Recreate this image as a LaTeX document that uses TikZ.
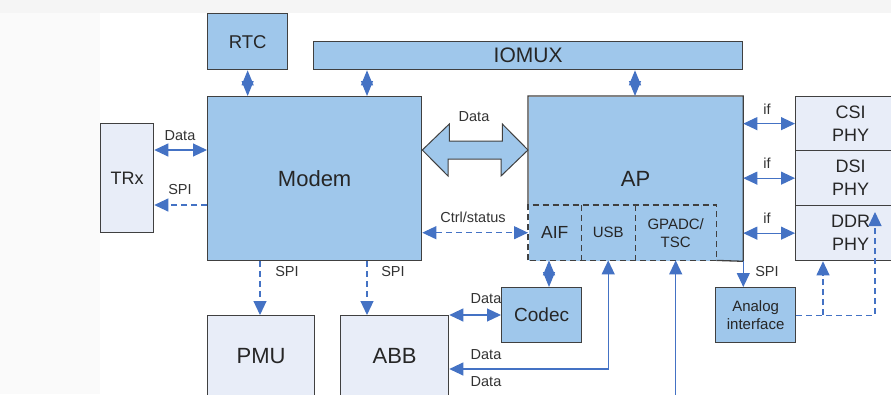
\documentclass[tikz,border=0pt]{standalone}
\usepackage{fontspec}
\setmainfont{Liberation Sans}
\usetikzlibrary{arrows.meta}

\definecolor{boxblue}{RGB}{159,199,235}
\definecolor{boxlight}{RGB}{232,237,248}
\definecolor{arrblue}{RGB}{68,114,196}
\definecolor{edgegray}{RGB}{64,64,64}
\definecolor{bggray}{RGB}{245,245,245}
\definecolor{sidegray}{RGB}{250,250,250}

\begin{document}
\begin{tikzpicture}[x=1pt, y=-1pt,
  blk/.style={draw=edgegray, line width=1.3pt, fill=boxblue, anchor=north west, inner sep=0pt, align=center, text=black!85},
  lightblk/.style={blk, fill=boxlight},
  subblk/.style={anchor=north west, inner sep=0pt, align=center, text=black!85},
  lbl/.style={font=\fontsize{14.5}{17}\selectfont, text=black!80},
  dsh/.style={dash pattern=on 6pt off 4pt},
  dbl/.style={draw=arrblue, line width=1.1pt, {Triangle[length=14pt,width=13pt]}-{Triangle[length=14pt,width=13pt]}},
  sdbl/.style={draw=arrblue, line width=1.1pt, {Triangle[length=15pt,width=12pt]}-{Triangle[length=15pt,width=12pt]}},
  sgl/.style={draw=arrblue, line width=1.1pt, -{Triangle[length=14pt,width=13pt]}}]
  \useasboundingbox (0,0) rectangle (891,394);
  \clip (0,0) rectangle (891,394);
  \fill[sidegray] (0,0) rectangle (891,394);
  \fill[bggray] (0,0) rectangle (891,13);
  \fill[white] (100,13) rectangle (891,394);

  % blocks
  \node[blk, minimum width=80pt, minimum height=56pt, font=\fontsize{18.5}{22}\selectfont] (rtc) at (207,13) {RTC};
  \node[blk, minimum width=429pt, minimum height=28pt, font=\fontsize{21}{24}\selectfont] (iomux) at (313,41) {IOMUX};
  \node[blk, minimum width=214pt, minimum height=164pt, font=\fontsize{22}{26}\selectfont] (modem) at (207,96) {Modem};
  \node[lightblk, minimum width=53pt, minimum height=109pt, font=\fontsize{18}{22}\selectfont] (trx) at (100,123) {TRx};
  \node[blk, draw=none, minimum width=214pt, minimum height=164pt, font=\fontsize{22}{26}\selectfont] (ap) at (528,96) {AP};
  \node[subblk, minimum width=53pt, minimum height=55pt, font=\fontsize{17.5}{20}\selectfont] (aif) at (528,205) {AIF};
  \node[subblk, minimum width=54pt, minimum height=55pt, font=\fontsize{15}{18}\selectfont] (usb) at (581,205) {USB};
  \node[subblk, minimum width=81pt, minimum height=55pt, font=\fontsize{15}{18}\selectfont] (gpadc) at (635,205) {GPADC/\\TSC};
  \draw[edgegray, line width=1.3pt] (aif.north west) -- (ap.north west) -- (ap.north east) -- (ap.south east) -- (gpadc.south east);
  \draw[edgegray, line width=1.3pt, dsh] (aif.south west) rectangle (gpadc.north east);
  \draw[edgegray, line width=1.3pt, dsh] (aif.north east) -- (aif.south east);
  \draw[edgegray, line width=1.3pt, dsh] (usb.north east) -- (usb.south east);
  \node[lightblk, minimum width=110pt, minimum height=54pt, font=\fontsize{18}{23}\selectfont] (csi) at (795,96) {CSI\\PHY};
  \node[lightblk, minimum width=110pt, minimum height=55pt, font=\fontsize{18}{23}\selectfont] (dsi) at (795,150) {DSI\\PHY};
  \node[lightblk, minimum width=110pt, minimum height=55pt, font=\fontsize{18}{23}\selectfont] (ddr) at (795,205) {DDR\\PHY};
  \node[blk, minimum width=80pt, minimum height=55pt, font=\fontsize{19}{22}\selectfont] (codec) at (501,287) {Codec};
  \node[blk, minimum width=80pt, minimum height=55pt, font=\fontsize{15}{18}\selectfont] (ana) at (715,287) {Analog\\interface};
  \node[lightblk, minimum width=107pt, minimum height=80pt, font=\fontsize{22}{26}\selectfont] (pmu) at (207,315) {PMU};
  \node[lightblk, minimum width=108pt, minimum height=80pt, font=\fontsize{22}{26}\selectfont] (abb) at (340,315) {ABB};

  % wide data path
  \draw[edgegray, line width=1pt, fill=boxblue] (modem.east |- 0,150) -- ++(27,-26) -- ++(0,17) -- ++(53,0) -- ++(0,-17)
    -- (ap.west |- 0,150) -- ++(-27,26) -- ++(0,-17) -- ++(-53,0) -- ++(0,17) -- cycle;

  % connectors
  \draw[sdbl] (rtc.south) -- (rtc.south |- modem.north);
  \draw[sdbl] (iomux.south -| 367,0) -- (modem.north -| 367,0);
  \draw[sdbl] (iomux.south -| 635,0) -- (ap.north -| 635,0);
  \draw[dbl] (trx.east |- 0,150) -- (modem.west |- 0,150);
  \draw[sgl, dsh] (modem.west |- 0,205) -- (trx.east |- 0,205);
  \draw[dbl, dsh] (modem.east |- aif.west) -- (aif.west);
  \draw[sgl, dsh] (modem.south -| 260,0) -- (pmu.north -| 260,0);
  \draw[sgl, dsh] (modem.south -| 367,0) -- (abb.north -| 367,0);
  \draw[sdbl] (aif.south -| 549,0) -- (codec.north -| 549,0);
  \draw[dbl] (abb.north east) -- (codec.west |- abb.north east);
  \draw[dbl] (abb.east |- 0,369) -| (usb.south);
  \coordinate (adcin) at (675,400);
  \draw[sgl] (gpadc.south |- adcin) -- (gpadc.south);
  \draw[sgl] (ap.south east) -- (ap.south east |- ana.north);
  \draw[dbl] (ap.east |- csi.west) -- (csi.west);
  \draw[dbl] (ap.east |- dsi.west) -- (dsi.west);
  \draw[dbl] (ap.east |- ddr.west) -- (ddr.west);
  \coordinate (ddrtip) at (875,212);
  \draw[sgl, dsh] (ana.east) -| (ddrtip);
  \draw[sgl, dsh] (ana.east -| 823,0) -- (ddr.south -| 823,0);

  % labels
  \node[lbl] (ltrxdata) at (180,136) {Data};
  \node[lbl] (ltrxspi) at (180,190) {SPI};
  \node[lbl] (lapdata) at (474,117) {Data};
  \node[lbl] (lctrl) at (473,217) {Ctrl/status};
  \node[lbl] (lpmuspi) at (287,272) {SPI};
  \node[lbl] (labbspi) at (393,272) {SPI};
  \node[lbl] (lcodec) at (486,299) {Data};
  \node[lbl] (lusbup) at (486,355) {Data};
  \node[lbl] (lusbdn) at (486,382) {Data};
  \node[lbl] (lanaspi) at (767,272) {SPI};
  \node[lbl] (lifcsi) at (767,109) {if};
  \node[lbl] (lifdsi) at (767,163) {if};
  \node[lbl] (lifddr) at (767,218) {if};
\end{tikzpicture}
\end{document}
